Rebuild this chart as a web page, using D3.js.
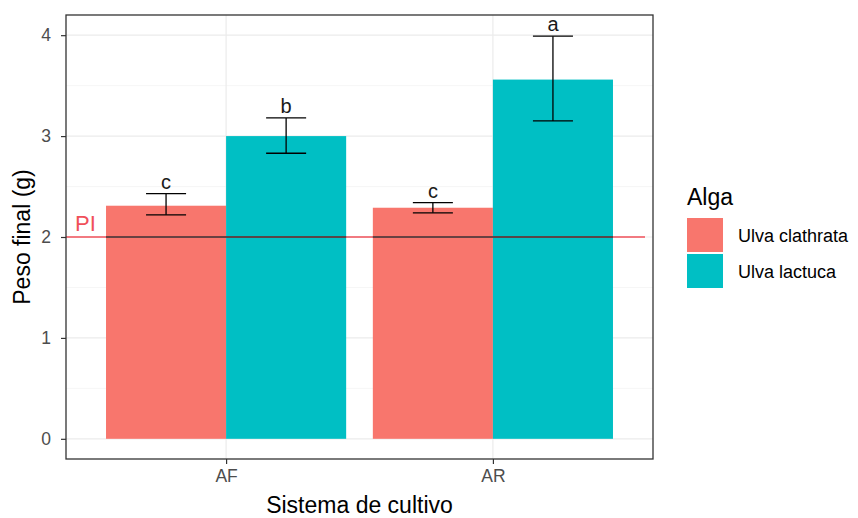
<!DOCTYPE html>
<html>
<head>
<meta charset="utf-8">
<script src="https://cdn.jsdelivr.net/npm/d3@7"></script>
<style>
  html, body { margin: 0; padding: 0; background: #fff; }
  svg { display: block; font-family: "Liberation Sans", Arial, sans-serif; }
</style>
</head>
<body>
<svg id="chart" width="858" height="518"></svg>
<script>
// Final weight (g) per culture system and algae species
const sistemas = ["AF", "AR"];
const especies = ["Ulva clathrata", "Ulva lactuca"];
const media = {
  "Ulva clathrata": [2.31, 2.29],
  "Ulva lactuca":   [3.00, 3.56]
};
const errInf = {
  "Ulva clathrata": [2.22, 2.24],
  "Ulva lactuca":   [2.83, 3.15]
};
const errSup = {
  "Ulva clathrata": [2.43, 2.34],
  "Ulva lactuca":   [3.18, 3.99]
};
const letras = {
  "Ulva clathrata": ["c", "c"],
  "Ulva lactuca":   ["b", "a"]
};
const yTicks = [0, 1, 2, 3, 4];
const yMinor = [0.5, 1.5, 2.5, 3.5];
const pesoInicial = 2;
const colores = ["#F8766D", "#00BFC4"];

const rows = [];
sistemas.forEach((s, i) => especies.forEach(e => rows.push({
  sistema: s, especie: e, valor: media[e][i], lo: errInf[e][i], hi: errSup[e][i], letra: letras[e][i]
})));

const svg = d3.select("#chart");
const panel = { left: 66, right: 653, top: 15, bottom: 459 };

// discrete x positions: 1..n with 0.6 expansion on each side
const x = d3.scaleLinear().domain([0.4, sistemas.length + 0.6]).range([panel.left, panel.right]);
const y = d3.scaleLinear().domain([-0.2, 4.2]).range([panel.bottom, panel.top]);
const color = d3.scaleOrdinal().domain(especies).range(colores);
const dodge = 0.9;
const barW = dodge / especies.length;
const xBar = d => (sistemas.indexOf(d.sistema) + 1) - dodge / 2 + especies.indexOf(d.especie) * barW;
const xMid = d => xBar(d) + barW / 2;

// grid lines
const grid = svg.append("g");
grid.selectAll(".minor").data(yMinor).join("line")
  .attr("x1", panel.left).attr("x2", panel.right)
  .attr("y1", d => y(d)).attr("y2", d => y(d))
  .attr("stroke", "#f4f4f4").attr("stroke-width", 0.8);
grid.selectAll(".majY").data(yTicks).join("line")
  .attr("x1", panel.left).attr("x2", panel.right)
  .attr("y1", d => y(d)).attr("y2", d => y(d))
  .attr("stroke", "#ebebeb").attr("stroke-width", 1.2);
grid.selectAll(".majX").data(sistemas).join("line")
  .attr("x1", (d, i) => x(i + 1)).attr("x2", (d, i) => x(i + 1))
  .attr("y1", panel.top).attr("y2", panel.bottom)
  .attr("stroke", "#ebebeb").attr("stroke-width", 1.2);

// bars
svg.append("g").selectAll("rect").data(rows).join("rect")
  .attr("x", d => x(xBar(d)))
  .attr("width", d => x(xBar(d) + barW) - x(xBar(d)))
  .attr("y", d => y(d.valor))
  .attr("height", d => y(0) - y(d.valor))
  .attr("fill", d => color(d.especie));

// reference line at the initial weight
const piG = svg.append("g");
piG.append("line")
  .attr("x1", x(0.4)).attr("x2", x(sistemas.length + 0.57))
  .attr("y1", y(pesoInicial)).attr("y2", y(pesoInicial))
  .attr("stroke", "#F0505A").attr("stroke-width", 1.4);
// darker where it crosses the bars
const defs = svg.append("defs");
defs.append("clipPath").attr("id", "barsClip").selectAll("rect").data(rows).join("rect")
  .attr("x", d => x(xBar(d)))
  .attr("width", d => x(xBar(d) + barW) - x(xBar(d)))
  .attr("y", d => y(d.valor))
  .attr("height", d => y(0) - y(d.valor));
piG.append("line")
  .attr("clip-path", "url(#barsClip)")
  .attr("x1", x(0.4)).attr("x2", x(sistemas.length + 0.57))
  .attr("y1", y(pesoInicial)).attr("y2", y(pesoInicial))
  .attr("stroke", "#3a3a3a").attr("stroke-width", 1.4);
piG.append("text")
  .attr("x", x(0.4) + 9).attr("y", y(pesoInicial) - 6)
  .attr("fill", "#F0505A").attr("font-size", 22).text("PI");

// error bars
const capHalf = 0.075;
const eb = svg.append("g").attr("stroke", "#000").attr("stroke-width", 1.3);
eb.selectAll(".v").data(rows).join("line")
  .attr("x1", d => x(xMid(d))).attr("x2", d => x(xMid(d)))
  .attr("y1", d => y(d.lo)).attr("y2", d => y(d.hi));
eb.selectAll(".t").data(rows).join("line")
  .attr("x1", d => x(xMid(d) - capHalf)).attr("x2", d => x(xMid(d) + capHalf))
  .attr("y1", d => y(d.hi)).attr("y2", d => y(d.hi));
eb.selectAll(".b").data(rows).join("line")
  .attr("x1", d => x(xMid(d) - capHalf)).attr("x2", d => x(xMid(d) + capHalf))
  .attr("y1", d => y(d.lo)).attr("y2", d => y(d.lo));

// significance letters
svg.append("g").selectAll("text").data(rows).join("text")
  .attr("x", d => x(xMid(d))).attr("y", d => y(d.hi) - 5)
  .attr("text-anchor", "middle").attr("font-size", 20).attr("fill", "#1a1a1a")
  .text(d => d.letra);

// panel border
svg.append("rect")
  .attr("x", panel.left).attr("y", panel.top)
  .attr("width", panel.right - panel.left).attr("height", panel.bottom - panel.top)
  .attr("fill", "none").attr("stroke", "#333").attr("stroke-width", 1.3);

// axes
const yAxis = d3.axisLeft(y).tickValues(yTicks).tickSize(5).tickPadding(10).tickFormat(d3.format("d"));
const gy = svg.append("g").attr("transform", `translate(${panel.left},0)`).call(yAxis);
const xAxis = d3.axisBottom(x).tickValues(sistemas.map((s, i) => i + 1)).tickSize(5).tickPadding(6)
  .tickFormat((d, i) => sistemas[i]);
const gx = svg.append("g").attr("transform", `translate(0,${panel.bottom})`).call(xAxis);
[gx, gy].forEach(g => {
  g.select(".domain").remove();
  g.selectAll(".tick line").attr("stroke", "#333").attr("stroke-width", 1.2);
  g.selectAll(".tick text").attr("fill", "#4d4d4d").attr("font-size", 17.5)
    .attr("font-family", "Liberation Sans, Arial, sans-serif");
});

// axis titles
svg.append("text").attr("x", (panel.left + panel.right) / 2).attr("y", 513)
  .attr("text-anchor", "middle").attr("font-size", 23).attr("fill", "#000").text("Sistema de cultivo");
svg.append("text").attr("transform", `translate(30,${(panel.top + panel.bottom) / 2}) rotate(-90)`)
  .attr("text-anchor", "middle").attr("font-size", 23).attr("fill", "#000").text("Peso final (g)");

// legend
const leg = svg.append("g").attr("transform", "translate(687,205)");
leg.append("text").attr("x", 0).attr("y", 0).attr("font-size", 23).attr("fill", "#000").text("Alga");
const item = leg.selectAll(".item").data(especies).join("g")
  .attr("transform", (d, i) => `translate(0,${13 + i * 36})`);
item.append("rect").attr("width", 36).attr("height", 34).attr("fill", d => color(d));
item.append("text").attr("x", 51).attr("y", 24).attr("font-size", 18).attr("fill", "#000").text(d => d);
</script>
</body>
</html>
